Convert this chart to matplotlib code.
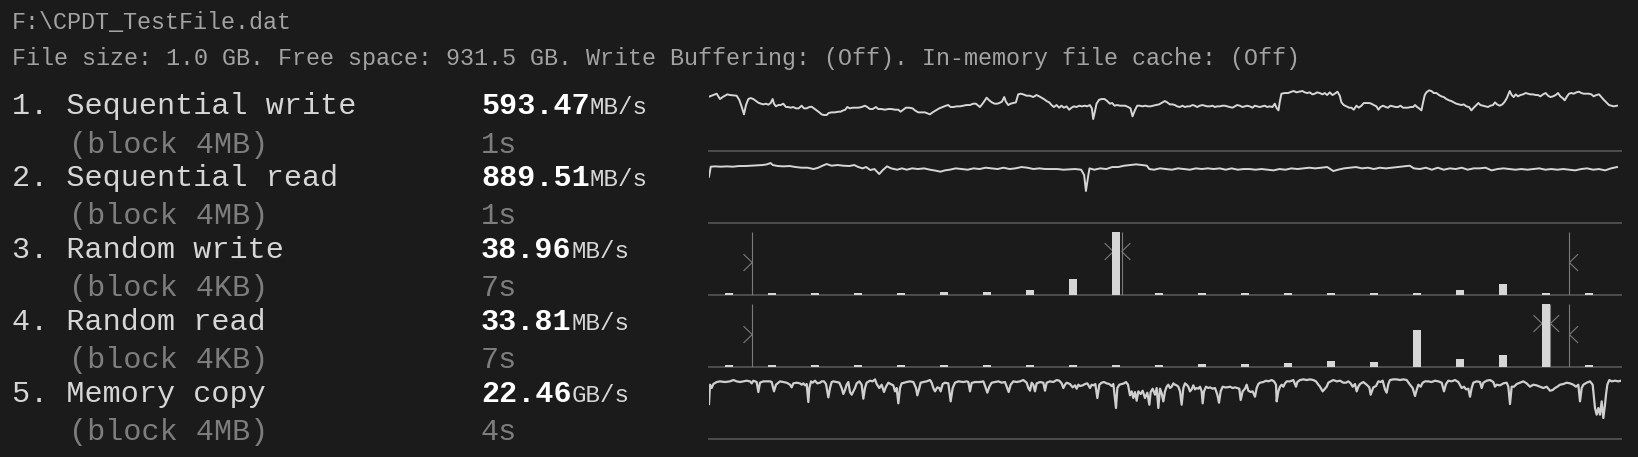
import matplotlib
matplotlib.use("Agg")
import matplotlib.pyplot as plt

W, H = 1638, 457

# ---- palette (dark console look) ----
BG = "#1b1b1b"
HEAD = "#a3a3a3"
LABEL = "#d6d6d6"
DIM = "#7d7d7d"
VALUE = "#ffffff"
TRACE = "#d6d6d6"
RULE = "#4d4d4d"
MARK = "#7a7a7a"
MONO = ["Liberation Mono", "DejaVu Sans Mono"]

# ======================================================================
# DATA
# ======================================================================
header_path = "F:\\CPDT_TestFile.dat"
header_info = ("File size: 1.0 GB. Free space: 931.5 GB. Write Buffering: (Off). "
               "In-memory file cache: (Off)")

names = ["Sequential write", "Sequential read", "Random write", "Random read", "Memory copy"]
blocks = ["4MB", "4MB", "4KB", "4KB", "4MB"]
speeds = ["593.47", "889.51", "38.96", "33.81", "22.46"]
units = ["MB/s", "MB/s", "MB/s", "MB/s", "GB/s"]
durations = ["1s", "1s", "7s", "7s", "4s"]

# 1. sequential write trace (elapsed ticks, MB/s)
sw_t = [27, 35, 45, 50, 55, 60, 68, 75, 82, 90,
        100, 110, 118, 125, 132, 138, 145, 152, 160, 168,
        175, 183, 190, 198, 205, 212, 218, 222, 228, 235,
        242, 250, 258, 265, 272, 280, 288, 296, 305, 312,
        320, 328, 335, 342, 350, 358, 365, 372, 380, 386,
        395, 405, 415, 422, 430, 436, 442, 450, 458, 466,
        475, 485, 495, 502, 510, 518, 528, 535, 545, 555,
        565, 575, 585, 595, 602, 610, 618, 628, 638, 645,
        655, 665, 675, 685, 690, 698, 708, 718, 728, 738,
        745, 752, 760, 770, 780, 790, 800, 810, 820, 828,
        835, 840, 848, 855, 860, 868, 876, 884, 892, 898,
        906, 913, 918, 925, 932, 940, 948, 955, 962, 970,
        980, 990, 1000, 1010, 1018, 1025, 1032, 1040, 1048, 1055,
        1062, 1070, 1078, 1085, 1092, 1100, 1108, 1115, 1122, 1130,
        1138, 1146, 1155, 1162, 1170, 1176, 1180, 1185, 1190, 1198,
        1206, 1214, 1222, 1230, 1237, 1244, 1252, 1260, 1268, 1276,
        1285, 1292, 1298, 1305, 1312, 1320, 1328, 1336, 1345, 1352,
        1360, 1368, 1378, 1388, 1395, 1402, 1410, 1418, 1425, 1432,
        1440, 1448, 1455, 1462, 1470, 1478, 1485, 1492, 1500, 1508,
        1515, 1522, 1530, 1538, 1545, 1552, 1560, 1568, 1575, 1582,
        1590, 1598, 1605, 1612, 1620, 1628, 1635, 1642, 1650, 1658,
        1665, 1672, 1680, 1688, 1695, 1702, 1710, 1718, 1725, 1730,
        1736, 1740, 1745, 1755, 1765, 1775, 1782, 1790, 1798, 1808,
        1815, 1822, 1830, 1838, 1845, 1852, 1860, 1868, 1875, 1882,
        1890, 1898, 1905, 1913, 1920, 1925, 1932, 1940, 1948, 1955,
        1962, 1970, 1977, 1985, 1992, 2000, 2008, 2015, 2022, 2030,
        2036, 2042, 2050, 2058, 2065, 2072, 2080, 2088, 2095, 2102,
        2110, 2118, 2125, 2132, 2140, 2146, 2152, 2158, 2165, 2170,
        2175, 2180, 2188, 2195, 2202, 2210, 2218, 2225, 2232, 2240,
        2248, 2255, 2262, 2270, 2278, 2285, 2292, 2300, 2308, 2315,
        2322, 2330, 2336, 2342, 2350, 2358, 2365, 2372, 2380, 2386,
        2392, 2400, 2408, 2415, 2422, 2430, 2436, 2442, 2448, 2455,
        2462, 2470, 2478, 2485, 2492, 2500, 2508, 2515, 2522, 2530,
        2538, 2545, 2552, 2560, 2568, 2575, 2582, 2590, 2595, 2602,
        2608, 2615, 2622, 2630, 2638, 2645, 2652, 2660, 2668, 2675,
        2682, 2690, 2698, 2705, 2712, 2720, 2728, 2735, 2742, 2752]
sw_v = [648, 660, 676, 684, 652, 620, 644, 660, 676, 668,
        664, 660, 608, 528, 436, 548, 620, 632, 620, 596,
        576, 564, 556, 564, 552, 572, 620, 564, 532, 548,
        548, 564, 524, 524, 516, 524, 508, 508, 540, 508,
        508, 524, 528, 508, 484, 460, 436, 428, 428, 452,
        460, 460, 468, 468, 484, 492, 524, 508, 516, 516,
        516, 524, 540, 524, 500, 500, 524, 500, 500, 492,
        500, 500, 492, 492, 468, 492, 516, 516, 508, 484,
        460, 460, 460, 444, 436, 460, 484, 508, 524, 540,
        548, 524, 524, 532, 532, 540, 548, 548, 564, 564,
        540, 524, 564, 604, 636, 604, 580, 564, 564, 572,
        588, 644, 588, 548, 564, 572, 580, 676, 684, 676,
        660, 660, 644, 668, 652, 636, 620, 596, 580, 548,
        524, 548, 516, 540, 516, 532, 492, 516, 532, 524,
        540, 532, 540, 532, 548, 508, 380, 468, 564, 612,
        620, 620, 596, 564, 572, 540, 548, 540, 540, 540,
        524, 508, 412, 484, 540, 540, 532, 540, 532, 532,
        540, 548, 556, 580, 596, 580, 556, 556, 548, 532,
        524, 540, 524, 532, 532, 548, 540, 524, 540, 548,
        540, 532, 532, 540, 524, 532, 532, 540, 540, 532,
        524, 516, 532, 548, 540, 524, 532, 540, 532, 516,
        540, 532, 524, 532, 540, 524, 532, 524, 564, 516,
        484, 588, 684, 692, 692, 708, 716, 700, 708, 716,
        700, 692, 700, 676, 684, 700, 692, 676, 692, 668,
        700, 668, 684, 708, 660, 580, 548, 532, 516, 516,
        492, 540, 516, 540, 572, 572, 572, 564, 548, 532,
        492, 524, 540, 524, 516, 540, 532, 524, 524, 540,
        516, 516, 516, 524, 524, 548, 524, 508, 484, 580,
        668, 700, 724, 716, 692, 692, 668, 652, 644, 620,
        604, 596, 580, 564, 556, 548, 556, 532, 524, 484,
        516, 548, 572, 548, 540, 532, 524, 540, 548, 580,
        556, 540, 556, 588, 636, 716, 668, 644, 676, 652,
        668, 676, 692, 684, 676, 676, 668, 668, 652, 676,
        692, 660, 644, 652, 668, 692, 652, 628, 604, 652,
        684, 692, 684, 700, 708, 692, 684, 684, 684, 676,
        652, 668, 676, 644, 612, 580, 548, 540, 532, 540]

# 2. sequential read trace (elapsed ticks, MB/s)
sr_t = [15, 18, 25, 35, 45, 55, 65, 75, 85, 95,
        105, 112, 118, 122, 130, 140, 150, 160, 170, 180,
        190, 198, 205, 212, 220, 230, 240, 250, 258, 265,
        272, 278, 285, 292, 300, 306, 313, 320, 330, 338,
        346, 355, 365, 375, 385, 395, 402, 410, 418, 428,
        438, 448, 458, 468, 478, 488, 498, 508, 518, 528,
        538, 548, 558, 568, 578, 588, 598, 608, 618, 628,
        638, 643, 646, 650, 652, 660, 670, 680, 690, 700,
        710, 720, 730, 740, 748, 752, 760, 770, 780, 790,
        800, 810, 820, 830, 840, 850, 860, 870, 880, 890,
        900, 910, 920, 930, 940, 950, 960, 970, 980, 990,
        1000, 1010, 1020, 1030, 1040, 1050, 1060, 1068, 1078, 1088,
        1098, 1108, 1118, 1128, 1138, 1148, 1158, 1168, 1178, 1188,
        1195, 1205, 1215, 1225, 1235, 1245, 1255, 1265, 1275, 1285,
        1295, 1305, 1315, 1325, 1335, 1345, 1355, 1365, 1375, 1385,
        1395, 1405, 1415, 1425, 1435, 1445, 1455, 1465, 1475, 1485,
        1495, 1505, 1515, 1525, 1535]
sr_v = [690, 840, 845, 840, 845, 840, 850, 850, 855, 860,
        865, 875, 895, 865, 850, 845, 850, 835, 825, 825,
        805, 825, 855, 880, 855, 865, 855, 850, 865, 835,
        815, 835, 790, 805, 730, 790, 845, 815, 795, 815,
        795, 815, 805, 815, 795, 780, 765, 785, 795, 815,
        805, 795, 815, 805, 825, 815, 805, 825, 805, 815,
        835, 825, 805, 815, 805, 805, 805, 795, 800, 805,
        795, 715, 475, 715, 815, 795, 815, 805, 835, 835,
        855, 865, 875, 865, 855, 805, 795, 815, 805, 795,
        815, 805, 795, 815, 805, 815, 805, 815, 795, 815,
        795, 805, 805, 795, 805, 795, 785, 805, 795, 815,
        805, 815, 825, 815, 825, 835, 775, 795, 815, 825,
        835, 815, 825, 805, 825, 815, 825, 835, 845, 855,
        815, 805, 825, 795, 825, 795, 815, 805, 825, 795,
        815, 815, 825, 785, 805, 815, 805, 795, 805, 795,
        805, 815, 795, 805, 795, 805, 795, 785, 805, 815,
        795, 805, 785, 815, 835]

# 3./4. random write / read: ops per latency bucket, plus marker buckets
rw_hist = [6, 6, 6, 6, 6, 9, 9, 15, 48, 188, 6, 4, 4, 4, 4, 6, 6, 15, 33, 4, 4]
rr_hist = [5, 4, 4, 4, 4, 4, 4, 4, 4, 6, 6, 9, 9, 12, 18, 15, 110, 24, 36, 188, 5]
rw_marks = [0.54, 9.13, 19.54]
rr_marks = [0.54, 19.10, 19.54]

# 5. memory copy trace (elapsed ticks, GB/s)
mc_t = [27, 30, 35, 40, 50, 60, 75, 90, 100, 110,
        120, 130, 140, 150, 155, 160, 170, 175, 180, 190,
        200, 210, 215, 222, 228, 235, 240, 250, 260, 270,
        275, 280, 290, 300, 305, 310, 315, 320, 325, 328,
        333, 338, 345, 352, 360, 365, 372, 378, 385, 390,
        395, 400, 410, 418, 425, 430, 435, 440, 445, 450,
        455, 460, 465, 470, 478, 485, 490, 495, 500, 510,
        518, 525, 530, 538, 545, 552, 558, 565, 572, 580,
        585, 590, 595, 600, 605, 612, 620, 630, 640, 648,
        652, 658, 662, 670, 680, 690, 695, 700, 705, 712,
        718, 722, 728, 735, 745, 752, 758, 765, 775, 790,
        800, 805, 810, 815, 825, 840, 850, 856, 862, 868,
        875, 885, 895, 905, 915, 920, 926, 932, 940, 950,
        960, 970, 980, 985, 990, 995, 1000, 1005, 1010, 1020,
        1030, 1035, 1040, 1050, 1060, 1070, 1078, 1085, 1090, 1095,
        1100, 1110, 1118, 1125, 1130, 1135, 1140, 1148, 1155, 1162,
        1170, 1175, 1180, 1186, 1192, 1198, 1205, 1212, 1220, 1228,
        1235, 1240, 1248, 1252, 1258, 1265, 1272, 1278, 1284, 1290,
        1295, 1300, 1305, 1310, 1315, 1322, 1328, 1335, 1342, 1348,
        1352, 1358, 1365, 1370, 1375, 1380, 1385, 1390, 1395, 1400,
        1405, 1410, 1415, 1420, 1425, 1430, 1435, 1440, 1445, 1450,
        1455, 1460, 1465, 1470, 1475, 1480, 1485, 1490, 1495, 1500,
        1505, 1508, 1512, 1518, 1525, 1530, 1538, 1545, 1552, 1557,
        1562, 1568, 1575, 1582, 1590, 1598, 1605, 1612, 1618, 1622,
        1628, 1635, 1640, 1645, 1652, 1658, 1665, 1670, 1675, 1680,
        1690, 1698, 1705, 1715, 1722, 1728, 1730, 1735, 1740, 1745,
        1750, 1755, 1760, 1770, 1780, 1788, 1792, 1800, 1810, 1820,
        1830, 1840, 1848, 1855, 1860, 1868, 1875, 1880, 1885, 1892,
        1900, 1910, 1920, 1930, 1938, 1945, 1952, 1958, 1965, 1970,
        1975, 1980, 1990, 2000, 2008, 2012, 2020, 2028, 2035, 2042,
        2048, 2055, 2060, 2065, 2070, 2080, 2090, 2100, 2110, 2120,
        2130, 2138, 2145, 2150, 2155, 2162, 2168, 2175, 2185, 2195,
        2205, 2215, 2225, 2232, 2238, 2245, 2255, 2265, 2275, 2285,
        2292, 2298, 2305, 2310, 2315, 2320, 2330, 2340, 2345, 2350,
        2360, 2370, 2380, 2385, 2390, 2400, 2410, 2420, 2425, 2430,
        2435, 2442, 2450, 2460, 2470, 2480, 2490, 2500, 2510, 2520,
        2530, 2540, 2550, 2558, 2565, 2572, 2580, 2590, 2600, 2610,
        2620, 2628, 2635, 2640, 2645, 2650, 2660, 2670, 2678, 2685,
        2690, 2695, 2700, 2705, 2710, 2715, 2718, 2722, 2728, 2735,
        2745, 2755, 2763]
mc_v = [13.0, 20.25, 19.0, 20.5, 21.25, 21.5, 21.25, 21.5, 22.0, 21.5,
        21.25, 21.5, 21.75, 21.5, 20.75, 21.75, 21.25, 17.5, 21.0, 21.5,
        21.5, 21.5, 21.25, 17.75, 20.25, 21.0, 21.5, 21.25, 21.0, 20.25,
        19.25, 20.75, 21.0, 20.75, 20.25, 20.75, 20.0, 20.5, 13.75, 19.0,
        21.5, 21.0, 21.75, 20.75, 21.0, 21.5, 21.5, 20.5, 15.5, 19.0,
        21.25, 21.5, 21.25, 21.0, 19.0, 16.75, 18.25, 20.25, 21.25, 17.5,
        16.5, 17.75, 19.0, 20.75, 21.5, 20.25, 15.0, 19.0, 21.0, 21.75,
        21.5, 22.25, 20.5, 19.0, 20.25, 17.5, 19.5, 21.0, 20.5, 20.0,
        17.75, 19.0, 13.25, 19.0, 20.75, 21.0, 21.25, 21.5, 21.25, 19.0,
        16.25, 19.0, 21.0, 21.25, 21.5, 22.0, 21.0, 19.0, 17.75, 19.25,
        19.0, 17.75, 20.5, 21.0, 20.75, 14.0, 19.0, 21.0, 21.5, 21.25,
        21.5, 21.25, 17.75, 20.9, 21.25, 21.25, 21.5, 19.5, 17.25, 19.5,
        21.0, 21.25, 21.5, 21.0, 21.25, 19.5, 17.5, 20.25, 21.5, 21.25,
        21.5, 22.0, 21.0, 19.0, 18.0, 21.0, 20.25, 17.75, 20.75, 21.25,
        21.0, 18.0, 21.0, 21.5, 21.25, 22.0, 21.75, 20.75, 19.0, 20.25,
        21.0, 20.5, 19.25, 20.0, 18.75, 20.25, 19.75, 20.0, 20.5, 20.75,
        19.0, 20.25, 20.0, 20.5, 15.25, 20.25, 21.0, 21.25, 20.75, 20.5,
        19.75, 20.5, 11.5, 19.0, 20.25, 20.5, 20.75, 21.25, 20.25, 16.25,
        17.75, 15.25, 17.5, 14.25, 17.75, 16.75, 18.0, 15.25, 17.25, 12.75,
        17.5, 18.75, 16.5, 19.0, 11.5, 18.75, 17.1, 14.0, 17.75, 19.5,
        20.25, 19.0, 19.5, 20.75, 20.25, 20.0, 19.5, 17.75, 12.75, 19.0,
        20.75, 20.25, 19.5, 17.75, 18.5, 20.0, 18.5, 19.0, 18.75, 19.5,
        17.75, 13.25, 17.75, 19.5, 19.0, 19.25, 18.75, 19.0, 16.5, 13.5,
        17.75, 19.5, 19.25, 19.25, 19.5, 19.0, 19.25, 19.0, 18.75, 14.5,
        17.75, 18.75, 20.25, 18.0, 17.5, 17.75, 15.75, 19.0, 20.5, 21.0,
        21.25, 21.75, 21.5, 22.0, 21.5, 20.25, 14.0, 17.75, 19.5, 20.25,
        19.5, 20.75, 21.5, 21.5, 22.0, 19.5, 21.25, 22.0, 22.25, 22.0,
        22.25, 22.0, 21.5, 20.25, 19.5, 17.75, 18.75, 19.5, 21.0, 21.5,
        22.0, 21.5, 21.75, 21.0, 21.0, 21.5, 20.75, 19.5, 20.5, 17.75,
        19.5, 20.5, 21.25, 20.25, 19.25, 16.5, 19.25, 19.75, 21.5, 21.25,
        21.75, 18.5, 17.25, 20.5, 22.0, 22.25, 22.25, 22.0, 22.25, 22.0,
        20.25, 19.0, 16.0, 18.25, 20.25, 19.5, 21.0, 21.5, 21.5, 21.25,
        21.75, 21.5, 21.0, 17.75, 20.5, 21.75, 21.5, 22.0, 21.25, 19.0,
        19.5, 18.5, 18.75, 15.75, 19.0, 21.0, 21.5, 21.25, 19.0, 21.0,
        21.75, 22.0, 21.25, 19.5, 20.25, 20.0, 20.75, 21.0, 19.5, 13.0,
        19.5, 19.5, 20.5, 21.0, 21.5, 20.75, 19.5, 20.25, 20.0, 19.5,
        19.0, 19.5, 18.0, 18.25, 19.0, 19.5, 20.25, 20.5, 21.0, 20.75,
        20.25, 19.5, 20.25, 14.0, 19.0, 20.25, 21.0, 21.5, 20.25, 11.5,
        9.0, 11.5, 9.0, 14.0, 7.75, 12.75, 16.5, 20.25, 22.0, 21.5,
        21.75, 21.5, 21.75]

# ======================================================================
# LAYOUT
# ======================================================================
fig = plt.figure(figsize=(W / 100, H / 100), dpi=100)
fig.patch.set_facecolor(BG)


def txt(x, y, s, size, color, weight="normal"):
    # x, y in pixels from the top-left corner, y = text baseline
    fig.text(x / W, 1 - y / H, s, fontsize=size, color=color, family=MONO,
             fontweight=weight, ha="left", va="baseline")


txt(12, 29, header_path, 16.85, HEAD)
txt(12, 64.5, header_info, 16.85, HEAD)

for r in range(5):
    yb = 114 + 72 * r
    txt(12, yb, f"{r + 1}. {names[r]}", 21.7, LABEL)
    txt(12 + 3 * 18.1 + 3, yb + 38.5, f"(block {blocks[r]})", 21.7, DIM)
    txt(481, yb, speeds[r], 21.7, VALUE, "bold")
    txt(481 + len(speeds[r]) * 18.08, yb, units[r], 17.4, LABEL)
    txt(481, yb + 38.5, durations[r], 21.7, DIM)


def spark_ax(r):
    base = 150.7 + 72 * r
    ax = fig.add_axes([709 / W, 1 - base / H, 912 / W, 63 / H])
    ax.set_axis_off()
    ax.axhline(0, color=RULE, lw=1.4, zorder=2, clip_on=False)
    return ax


def chevron(ax, x_apex, yc, side, ytop):
    w, h = 0.193, 0.127 * ytop
    dx = -w if side == ">" else w
    ax.plot([x_apex + dx, x_apex, x_apex + dx], [yc + h, yc, yc - h],
            color=MARK, lw=0.8, zorder=2)


# line traces
for r, (t, v, top) in enumerate([(sw_t, sw_v, 756), (sr_t, sr_v, 945)]):
    ax = spark_ax(r)
    ax.plot(t, v, color=TRACE, lw=1.4)
    ax.set_xlim(t[0], t[0] + (t[-1] - t[0]) * 912 / 908)
    ax.set_ylim(0, top)

ax = spark_ax(4)
ax.plot(mc_t, mc_v, color="#cfcfcf", lw=1.6)
ax.set_xlim(mc_t[0], mc_t[-1])
ax.set_ylim(0, 23.625)

# latency histograms
for r, hist, marks in [(2, rw_hist, rw_marks), (3, rr_hist, rr_marks)]:
    ax = spark_ax(r)
    top = 189
    ax.bar(range(len(hist)), hist, width=0.186, color=TRACE, zorder=3)
    ax.vlines(marks, 0, top, color=MARK, lw=0.8, zorder=2)
    chevron(ax, marks[0], 0.51 * top, ">", top)
    chevron(ax, marks[1] - 0.193, 0.685 * top, ">", top)
    chevron(ax, marks[1], 0.685 * top, "<", top)
    chevron(ax, marks[2], 0.51 * top, "<", top)
    ax.set_xlim(-0.465, 20.74)
    ax.set_ylim(0, top)

fig.savefig("out.png", dpi=100, facecolor=BG)
